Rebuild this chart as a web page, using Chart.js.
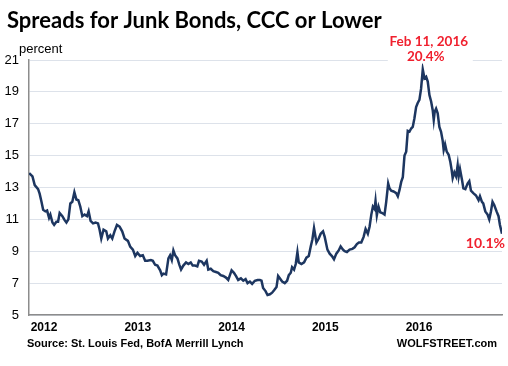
<!DOCTYPE html>
<html><head><meta charset="utf-8">
<script src="https://cdn.jsdelivr.net/npm/chart.js@4/dist/chart.umd.min.js"></script>
<style>html,body{margin:0;padding:0;background:#fff;}#wrap{width:508px;height:366px;position:relative}</style>
</head><body><div id="wrap"><canvas id="c" width="508" height="366"></canvas></div>
<script>
// Dates as decimal years, spreads in percent
const dates = [
2011.912,2011.947,2011.971,2012.007,2012.024,2012.043,2012.061,2012.085,2012.103,2012.124,
2012.138,2012.160,2012.178,2012.202,2012.220,2012.237,2012.266,2012.290,2012.309,2012.330,
2012.351,2012.372,2012.394,2012.415,2012.436,2012.457,2012.479,2012.503,2012.529,2012.546,
2012.567,2012.593,2012.620,2012.646,2012.663,2012.681,2012.705,2012.734,2012.752,2012.777,
2012.798,2012.822,2012.848,2012.876,2012.904,2012.929,2012.965,2012.989,2013.018,2013.043,
2013.067,2013.096,2013.124,2013.149,2013.173,2013.210,2013.231,2013.255,2013.280,2013.309,
2013.327,2013.344,2013.372,2013.397,2013.415,2013.433,2013.450,2013.468,2013.493,2013.514,
2013.532,2013.556,2013.585,2013.610,2013.635,2013.656,2013.681,2013.705,2013.723,2013.752,
2013.777,2013.805,2013.822,2013.848,2013.876,2013.904,2013.929,2013.954,2013.982,2014.011,
2014.035,2014.053,2014.071,2014.096,2014.117,2014.141,2014.170,2014.195,2014.220,2014.241,
2014.266,2014.290,2014.319,2014.348,2014.372,2014.390,2014.407,2014.433,2014.454,2014.479,
2014.503,2014.524,2014.550,2014.567,2014.585,2014.610,2014.638,2014.663,2014.681,2014.702,
2014.716,2014.737,2014.755,2014.773,2014.787,2014.816,2014.844,2014.869,2014.894,2014.915,
2014.933,2014.950,2014.976,2015.000,2015.021,2015.046,2015.064,2015.093,2015.117,2015.141,
2015.163,2015.188,2015.213,2015.234,2015.259,2015.277,2015.301,2015.330,2015.359,2015.383,
2015.407,2015.429,2015.454,2015.479,2015.500,2015.524,2015.543,2015.561,2015.578,2015.596,
2015.606,2015.620,2015.638,2015.656,2015.678,2015.702,2015.720,2015.741,2015.755,2015.773,
2015.798,2015.827,2015.844,2015.862,2015.880,2015.897,2015.915,2015.933,2015.950,2015.968,
2015.986,2016.003,2016.021,2016.039,2016.056,2016.074,2016.092,2016.110,2016.128,2016.146,
2016.163,2016.181,2016.199,2016.216,2016.227,2016.237,2016.252,2016.269,2016.287,2016.305,
2016.322,2016.333,2016.348,2016.365,2016.386,2016.404,2016.418,2016.429,2016.447,2016.465,
2016.482,2016.493,2016.507,2016.529,2016.543,2016.564,2016.588,2016.606,2016.624,2016.649,
2016.678,2016.705,2016.720,2016.741,2016.755,2016.777,2016.801,2016.819,2016.837,2016.854,
2016.872,2016.897,2016.918,2016.933,2016.955
];
const spreads = [
13.9,13.7,13.15,12.9,12.6,12.1,11.6,11.5,11.55,11.1,
11.3,10.8,10.65,10.85,10.85,11.4,11.2,10.95,10.8,11.0,
12.0,12.1,12.7,12.25,12.2,11.8,11.2,11.3,11.2,11.5,
10.9,10.75,10.8,10.75,10.35,9.8,10.35,10.25,9.8,10.0,
9.8,10.25,10.65,10.55,10.25,9.8,9.65,9.3,9.1,8.7,
8.9,8.7,8.75,8.4,8.4,8.45,8.4,8.15,8.1,7.8,
7.5,7.6,7.55,8.55,8.75,8.45,9.05,8.75,8.55,8.15,
7.85,8.1,8.3,8.2,8.3,8.1,8.1,8.05,8.4,8.35,
8.15,8.4,7.85,7.9,7.75,7.7,7.65,7.5,7.45,7.35,
7.2,7.5,7.8,7.65,7.45,7.2,7.3,7.15,7.25,7.0,
7.1,6.95,7.15,7.2,7.2,7.15,6.7,6.5,6.25,6.3,
6.4,6.55,6.75,7.45,7.3,7.1,7.0,7.15,7.5,7.65,
8.0,7.85,8.2,8.95,8.3,8.2,8.3,8.6,8.7,9.3,
9.75,10.45,9.55,9.8,10.1,10.25,9.9,9.1,8.85,8.7,
8.5,8.85,9.05,9.3,9.1,9.0,8.95,9.1,9.15,9.25,
9.45,9.55,9.55,9.9,10.4,10.1,10.55,11.3,11.8,11.65,
12.15,11.25,11.8,11.45,11.4,11.3,12.1,13.25,12.95,12.8,
12.75,12.65,12.45,12.85,13.35,13.65,15.0,15.25,16.55,16.5,
16.7,16.8,17.35,18.05,18.3,18.5,19.2,20.4,19.85,19.95,
19.65,18.8,18.4,17.85,17.25,17.75,17.95,17.65,16.8,16.5,
15.95,15.35,15.7,15.25,15.05,14.6,14.1,13.6,13.95,13.7,
14.4,13.7,14.15,13.45,12.95,12.9,13.25,13.4,12.8,12.65,
12.5,12.2,12.45,12.1,12.0,11.5,11.3,11.0,11.5,12.1,
11.9,11.5,11.2,10.65,10.1
];
const yearTicks = [2012, 2013, 2014, 2015, 2016];
const yearLabels = ['2012', '2013', '2014', '2015', '2016'];
const yTicks = [5, 7, 9, 11, 13, 15, 17, 19, 21];
const peakDate = 2016.110, peakValue = 20.4;
const peakLabel = 'Feb 11, 2016', peakValueLabel = '20.4%';
const lastValueLabel = '10.1%';

const points = dates.map((d, i) => ({x: d, y: spreads[i]}));
const RED = '#f0202e';

const decor = {
  id: 'decor',
  afterDraw(chart) {
    const ctx = chart.ctx;
    const xs = chart.scales.x, ys = chart.scales.y;
    ctx.save();
    ctx.fillStyle = '#000';
    ctx.textBaseline = 'middle';
    ctx.textAlign = 'left';
    ctx.font = 'bold 22px Lato';
    ctx.fillText('Spreads for Junk Bonds, CCC or Lower', 7, 21);
    ctx.font = '13px "Liberation Sans"';
    ctx.fillText('percent', 19, 49);
    ctx.font = 'bold 11px "Liberation Sans"';
    ctx.fillText('Source: St. Louis Fed, BofA Merrill Lynch', 27, 344);
    ctx.textAlign = 'right';
    ctx.fillText('WOLFSTREET.com', 497, 344);
    // peak annotation
    const px = xs.getPixelForValue(peakDate), py = ys.getPixelForValue(peakValue);
    ctx.fillStyle = '#fff';
    ctx.fillRect(px - 35, py - 36, 85, 30);
    ctx.fillStyle = RED;
    ctx.textAlign = 'center';
    ctx.font = 'bold 13.5px Lato';
    ctx.fillText(peakLabel, px + 6, py - 28);
    ctx.fillText(peakValueLabel, px + 3, py - 13);
    // last value
    const lx = xs.getPixelForValue(dates[dates.length - 1]);
    const ly = ys.getPixelForValue(spreads[spreads.length - 1]);
    ctx.textAlign = 'right';
    ctx.font = 'bold 14px Lato';
    ctx.fillText(lastValueLabel, lx + 3, ly + 10);
    ctx.restore();
  }
};

new Chart(document.getElementById('c'), {
  type: 'line',
  data: { datasets: [{ data: points, borderColor: '#1d3660', borderWidth: 2.5, pointRadius: 0, tension: 0, fill: false }] },
  options: {
    responsive: false, animation: false,
    layout: { padding: { top: 60, left: 0, right: 6, bottom: 31 } },
    plugins: { legend: { display: false }, tooltip: { enabled: false } },
    scales: {
      x: {
        type: 'linear', min: 2011.91, max: 2016.955,
        afterBuildTicks: s => { s.ticks = yearTicks.map(v => ({ value: v + 0.07 })); },
        afterFit: s => { s.height = 20; },
        grid: { display: false, drawTicks: false },
        border: { display: true, color: '#8c8c8c', width: 1.5 },
        ticks: { callback: (v, i) => yearLabels[i], font: { family: 'Liberation Sans', weight: 'bold', size: 12 }, color: '#000', padding: 5, maxRotation: 0, autoSkip: false }
      },
      y: {
        min: 5, max: 21,
        afterBuildTicks: s => { s.ticks = yTicks.map(v => ({ value: v })); },
        afterFit: s => { s.width = 29; },
        grid: { color: '#dde2ea', lineWidth: 1, drawTicks: false },
        border: { display: true, color: '#8c8c8c', width: 1.5 },
        ticks: { font: { family: 'Liberation Sans', size: 13 }, color: '#000', padding: 10 }
      }
    }
  },
  plugins: [decor]
});
</script></body></html>
